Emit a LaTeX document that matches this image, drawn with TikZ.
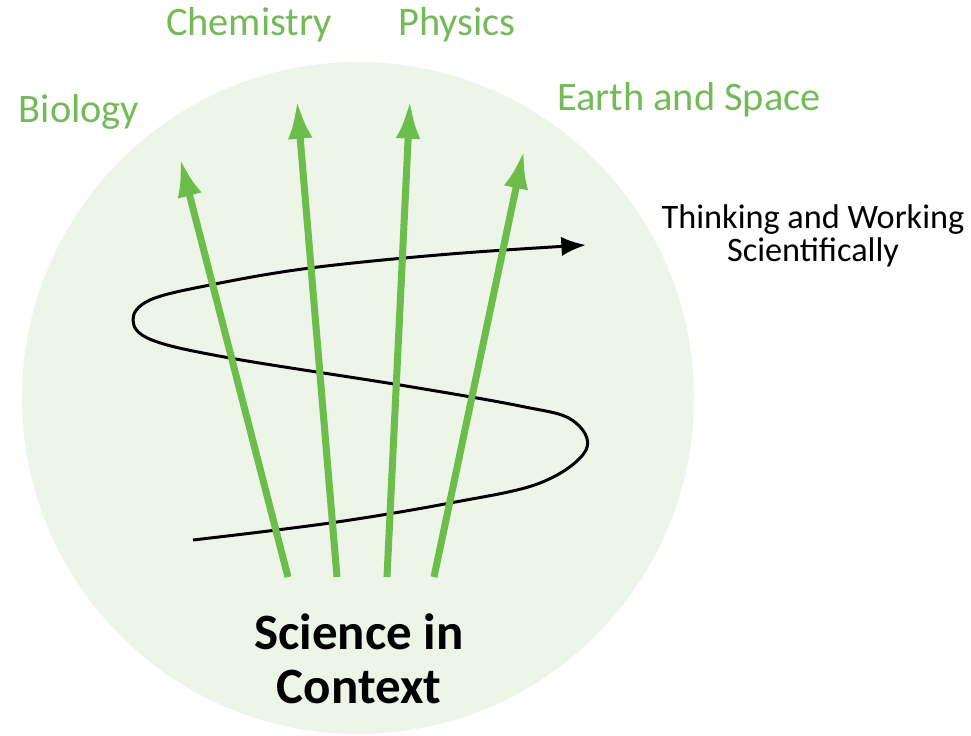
\documentclass[tikz,border=0pt]{standalone}
\usepackage{fontspec}
\setmainfont{Carlito}
\usepackage{tikz}
\usetikzlibrary{arrows.meta, positioning}

\definecolor{leaf}{RGB}{108,189,76}
\definecolor{leaftext}{RGB}{116,186,88}
\definecolor{disc}{RGB}{237,245,232}

\begin{document}
\begin{tikzpicture}[
    x=0.02cm, y=-0.02cm,
    subject/.style={text=leaftext, font=\fontsize{23}{27}\selectfont, inner sep=0pt},
    skill/.style={align=center, font=\fontsize{19.5}{18.5}\selectfont, inner sep=0pt},
    context/.style={align=center, font=\bfseries\fontsize{29}{31}\selectfont, inner sep=0pt},
    strand/.style={-{Latex[length=22pt, width=14pt]}, line width=4pt, leaf},
    wave/.style={-{Latex[length=14pt, width=11pt]}, line width=1.7pt, black},
]

\useasboundingbox (0,0) rectangle (971,735);
\fill[disc] (358,398) circle[radius=336];

% labels
\node[subject] (bio) at (79,112) {Biology};
\node[subject] (chem) at (249,25) {Chemistry};
\node[subject] (phys) at (457,25) {Physics};
\node[subject] (earth) at (689,100) {Earth and Space};
\node[skill] (tws) at (813,236) {Thinking and Working\\Scientifically};
\node[context] (sic) at (359,659) {Science in\\Context};

% strand ends
\coordinate (b1) at (288,577);
\coordinate (b2) at (337,577);
\coordinate (b3) at (387,577);
\coordinate (b4) at (434,577);
\coordinate (t1) at (180,158);
\coordinate (t2) at (297,100);
\coordinate (t3) at (410,100);
\coordinate (t4) at (524,150);

% the S curve
\coordinate (wstart) at (193,540);
\coordinate (wend) at (586,245);
\draw[wave] plot[smooth, tension=0.6] coordinates {(wstart) (330,523) (450,503) (540,483)
    (586,450) (572,420) (520,406) (400,385) (230,358) (152,340) (133,320)
    (150,300) (210,285) (310,268) (450,254) (wend)};

% strands
\draw[strand] (b1) -- (t1);
\draw[strand] (b2) -- (t2);
\draw[strand] (b3) -- (t3);
\draw[strand] (b4) -- (t4);

\end{tikzpicture}
\end{document}
